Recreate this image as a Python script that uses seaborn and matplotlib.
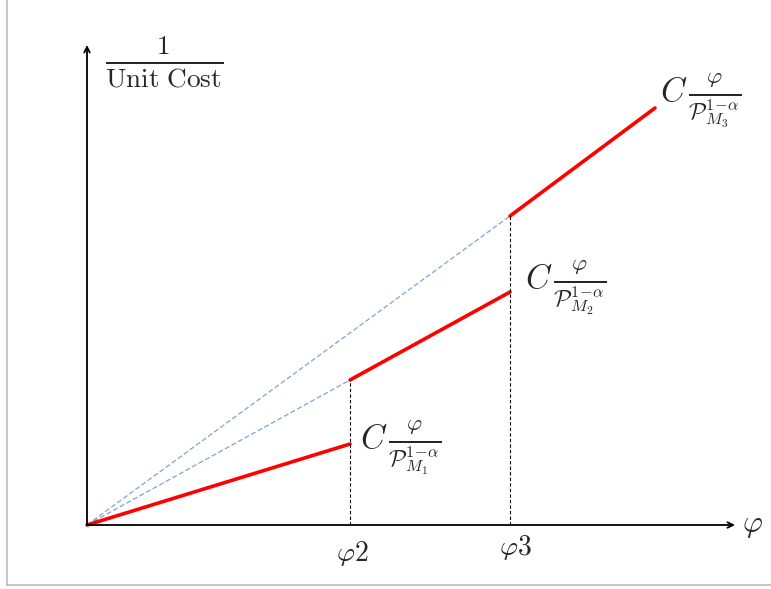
import pandas as pd
import seaborn as sns
import matplotlib.pyplot as plt
from matplotlib.lines import Line2D

sns.set_style("white")
plt.rcParams['mathtext.fontset'] = 'cm'
plt.rcParams['font.family'] = ['DejaVu Serif']

# breakpoints on the phi axis (arbitrary units)
phi_start = [0.0, 2.63, 4.23]
phi_end = [2.63, 4.23, 5.68]
# 1/unit cost at the start and end of each red segment
cost_start = [0.0, 1.45, 3.09]
cost_end = [0.81, 2.33, 4.17]
segments = ['M1', 'M2', 'M3']
labels = [r'$C\,\frac{\varphi}{\mathcal{P}_{M_1}^{1\!-\!\alpha}}$',
          r'$C\,\frac{\varphi}{\mathcal{P}_{M_2}^{1\!-\!\alpha}}$',
          r'$C\,\frac{\varphi}{\mathcal{P}_{M_3}^{1\!-\!\alpha}}$']
tick_names = [r'$\varphi 2$', r'$\varphi 3$']

rows = []
for s, x0, x1, y0, y1 in zip(segments, phi_start, phi_end, cost_start, cost_end):
    rows.append({'segment': s, 'phi': x0, 'cost': y0})
    rows.append({'segment': s, 'phi': x1, 'cost': y1})
df = pd.DataFrame(rows)

# dotted guide rays from the origin to the start of segments 2 and 3
guides = pd.DataFrame({
    'ray': ['a', 'a', 'b', 'b'],
    'phi': [0.0, phi_start[1], 0.0, phi_start[2]],
    'cost': [0.0, cost_start[1], 0.0, cost_start[2]],
})

fig = plt.figure(figsize=(7.71, 5.89), dpi=100)
ax = fig.add_axes([0, 0, 1, 1])

sns.lineplot(data=guides, x='phi', y='cost', units='ray', estimator=None,
             color='#7aa6d4', lw=0.9, linestyle=(0, (4, 2)), ax=ax)
sns.lineplot(data=df, x='phi', y='cost', units='segment', estimator=None,
             color='#ff0000', lw=2.6, ax=ax)

# vertical drop lines at phi2, phi3
for xb, yb in zip(phi_start[1:], cost_start[1:]):
    ax.plot([xb, xb], [0, yb], color='black', lw=0.8, linestyle=(0, (3, 2)))

# axes arrows
ax.annotate('', xy=(6.48, 0), xytext=(0, 0),
            arrowprops=dict(arrowstyle='->', color='black', lw=1.3,
                            shrinkA=0, shrinkB=0))
ax.annotate('', xy=(0, 4.80), xytext=(0, 0),
            arrowprops=dict(arrowstyle='->', color='black', lw=1.3,
                            shrinkA=0, shrinkB=0))

ax.text(6.55, 0.0, r'$\varphi$', fontsize=22, va='center', ha='left')
ax.text(0.77, 4.62, r'$\frac{1}{\mathrm{Unit\ Cost}}$', fontsize=28,
        va='center', ha='center')

lab_x = [2.73, 4.38, 5.73]
lab_y = [0.77, 2.37, 4.24]
for lx, ly, txt in zip(lab_x, lab_y, labels):
    ax.text(lx, ly, txt, fontsize=24, va='center', ha='left')

ax.text(2.65, -0.28, tick_names[0], fontsize=20, va='center', ha='center')
ax.text(4.28, -0.23, tick_names[1], fontsize=20, va='center', ha='center')

ax.set_xlim(-0.87, 6.84)
ax.set_ylim(-0.64, 5.25)
ax.axis('off')

# light grey frame around the picture (left and bottom edges)
fig.add_artist(Line2D([7 / 771, 7 / 771], [4 / 589, 1], color='#bbbbbb', lw=1.2))
fig.add_artist(Line2D([7 / 771, 1], [4 / 589, 4 / 589], color='#bbbbbb', lw=1.2))

fig.savefig('out.png', dpi=100)
